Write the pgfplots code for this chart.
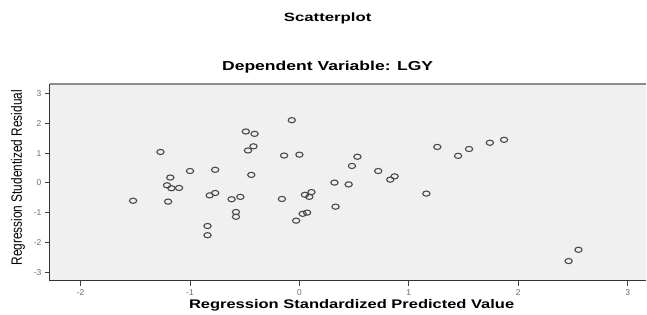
\documentclass[border=0pt]{standalone}
\usepackage{pgfplots}
\pgfplotsset{compat=1.18}
\usepackage{fontspec}
\setmainfont{Liberation Sans}
\definecolor{bgc}{HTML}{F0F0F0}
\definecolor{mk}{HTML}{4A4A4A}
\definecolor{tk}{HTML}{6A6A6A}
\begin{document}
\begin{tikzpicture}
\path (0pt,0pt) rectangle (647pt,313pt);
\begin{axis}[
  at={(50pt,32pt)}, anchor=south west,
  scale only axis, width=597pt, height=197pt,
  xmin=-2.28, xmax=3.17, ymin=-3.29, ymax=3.33,
  axis background/.style={fill=bgc},
  axis x line*=bottom, axis y line*=left,
  axis line style={color=black!80, line width=1.1pt, -},
  xtick={-2,-1,0,1,2,3}, ytick={-3,-2,-1,0,1,2,3},
  tick align=outside, major tick length=5pt,
  tick style={color=black!75, line width=0.8pt},
  tick label style={font=\fontsize{8.5}{9}\selectfont, color=tk},
  /pgf/number format/assume math mode=true,
  clip=false,
]
\addplot[only marks, mark=o, mark size=2.6pt, mark options={draw=mk, line width=1.1pt, fill=bgc, xscale=1.4}] coordinates {
(-1.52,-0.60) (-1.27,1.04) (-1.18,0.18) (-1.21,-0.08) (-1.17,-0.18) (-1.10,-0.17)
(-1.20,-0.63) (-1.00,0.40) (-0.77,0.44) (-0.82,-0.42) (-0.77,-0.34) (-0.84,-1.45)
(-0.84,-1.76) (-0.62,-0.55) (-0.54,-0.47) (-0.58,-0.98) (-0.58,-1.14) (-0.49,1.73)
(-0.41,1.65) (-0.42,1.23) (-0.47,1.09) (-0.44,0.27) (-0.07,2.11) (-0.14,0.92)
(0.00,0.95) (-0.16,-0.54) (0.05,-0.40) (0.09,-0.47) (0.11,-0.31) (0.03,-1.04)
(0.07,-1.00) (-0.03,-1.27)
(0.32,0.01) (0.33,-0.80) (0.45,-0.05) (0.48,0.57) (0.53,0.88) (0.72,0.40)
(0.83,0.11) (0.87,0.22) (1.16,-0.36) (1.26,1.21) (1.45,0.91) (1.55,1.14)
(1.74,1.35) (1.87,1.45) (2.46,-2.63) (2.55,-2.25)
};
\draw[color=black!45, line width=1.4pt] (rel axis cs:0,1) -- (rel axis cs:1,1);
\end{axis}
\node[font=\fontsize{12}{14}\bfseries\selectfont] at (328pt,295pt) {\scalebox{1.4}[1]{Scatterplot}};
\node[font=\fontsize{13}{15}\bfseries\selectfont] at (328pt,246pt) {\scalebox{1.35}[1]{Dependent Variable: LGY}};
\node[font=\fontsize{12.5}{14}\bfseries\selectfont] at (352pt,7pt) {\scalebox{1.32}[1]{Regression Standardized Predicted Value}};
\node[rotate=90, font=\fontsize{12.5}{14}\selectfont] at (18pt,135pt) {\scalebox{0.95}[1.2]{Regression Studentized Residual}};
\end{tikzpicture}
\end{document}
